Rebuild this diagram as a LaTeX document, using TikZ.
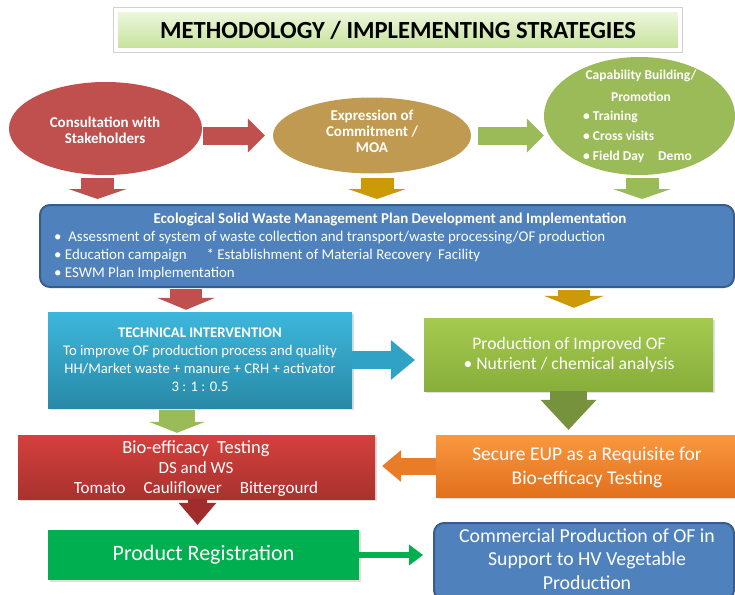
\documentclass[tikz,border=0pt]{standalone}
\usepackage{fontspec}
\setmainfont{Carlito}
\usetikzlibrary{calc}
\usetikzlibrary{shapes.geometric}
\usetikzlibrary{arrows.meta}
\usetikzlibrary{shadows}

\definecolor{ovalred}{HTML}{C0504D}
\definecolor{ovaltan}{HTML}{C09A51}
\definecolor{ovalgreen}{HTML}{9BBB59}
\definecolor{gold}{HTML}{CC9A06}
\definecolor{titletop}{HTML}{EEF7DF}
\definecolor{titlebot}{HTML}{C4E197}
\definecolor{eswblue}{HTML}{4F81BD}
\definecolor{eswedge}{HTML}{385D8A}
\definecolor{techtop}{HTML}{3DB7DC}
\definecolor{techbot}{HTML}{2989A7}
\definecolor{techarrow}{HTML}{2FA2C6}
\definecolor{prodtop}{HTML}{A4CA50}
\definecolor{prodbot}{HTML}{88AE3B}
\definecolor{olive}{HTML}{76923C}
\definecolor{biotop}{HTML}{D5403C}
\definecolor{biobot}{HTML}{A8322F}
\definecolor{biodark}{HTML}{A02C2C}
\definecolor{eupTop}{HTML}{F9983F}
\definecolor{eupBot}{HTML}{E2701C}
\definecolor{regreen}{HTML}{00B050}

\begin{document}
\begin{tikzpicture}[x=1pt,y=-1pt,
        every node/.style={inner sep=0pt,text=white},
        oval/.style={ellipse,draw=none},
        panel/.style={rectangle,drop shadow={shadow xshift=1.5pt,shadow yshift=-1.5pt,opacity=0.25}},
        blockarrow/.style args={#1/#2/#3}{line width=#1,-{Triangle[width=#2,length=#3,line width=0pt]}},
        ovaltext/.style={font=\bfseries\fontsize{15}{16}\selectfont,align=center}
    ]
    \useasboundingbox (0,0) rectangle (735,594);

    \node[preaction={draw=black!18,line width=6pt},draw=white,line width=4pt,
          top color=titletop,bottom color=titlebot,
          minimum width=564pt,minimum height=40pt,text=black,
          font=\bfseries\fontsize{24.6}{28}\selectfont] (title) at (398,30.5)
          {METHODOLOGY / IMPLEMENTING STRATEGIES};

    \node[oval,fill=ovalred,minimum width=193pt,minimum height=93pt] (e1) at (105.5,128.5) {};
    \node[oval,fill=ovaltan,minimum width=198pt,minimum height=76pt] (e2) at (372,135.5) {};
    \node[oval,fill=ovalgreen,minimum width=191pt,minimum height=118pt] (e3) at (639.5,116) {};

    \node[ovaltext] (e1text) at (105,130.5) {Consultation with\\Stakeholders};
    \node[ovaltext] (e2text) at (372,131) {Expression of\\Commitment /\\MOA};
    \node[font=\bfseries\fontsize{13.5}{22}\selectfont,align=center] (e3head) at (641,86)
          {Capability Building/\\Promotion};
    \node[font=\bfseries\fontsize{13.5}{20}\selectfont,align=left,anchor=west] (e3list) at (583,137)
          {• Training\\• Cross visits\\• Field Day\hspace{14pt}Demo};

    \node[rectangle,rounded corners=10pt,fill=eswblue,draw=eswedge,line width=2pt,
          minimum width=694pt,minimum height=82pt] (esw) at (387,246) {};
    \node[font=\bfseries\fontsize{15}{16}\selectfont] (eswhead) at (390,219)
          {Ecological Solid Waste Management Plan Development and Implementation};
    \node[font=\fontsize{14.9}{18}\selectfont,align=left,anchor=west] (eswlist) at (54,256)
          {•\ \ Assessment of system of waste collection and transport/waste processing/OF production\\
           •\ Education campaign\hspace{20pt}* Establishment of Material Recovery\ \ Facility\\
           •\ ESWM Plan Implementation};

    \node[panel,top color=techtop,bottom color=techbot,minimum width=304pt,minimum height=96pt] (tech) at (200,360) {};
    \node[align=center,font=\fontsize{14.7}{18}\selectfont] (techtext) at (200,360)
          {\textbf{TECHNICAL INTERVENTION}\\To improve OF production process and quality\\
           HH/Market waste + manure + CRH + activator\\3 : 1 : 0.5};

    \node[panel,top color=prodtop,bottom color=prodbot,minimum width=289pt,minimum height=73pt] (prod) at (568.5,354.5) {};
    \node[align=center,font=\fontsize{17.6}{20}\selectfont] (prodtext) at (569,355)
          {Production of Improved OF\\• Nutrient / chemical analysis};

    \node[panel,top color=biotop,bottom color=biobot,minimum width=357pt,minimum height=64pt] (bio) at (196.5,467) {};
    \node[align=center,font=\fontsize{17}{20}\selectfont] (biotext) at (196,469)
          {{\fontsize{18.5}{20}\selectfont Bio-efficacy\ \ Testing}\\DS and WS\\
           Tomato\hspace{18pt}Cauliflower\hspace{18pt}Bittergourd};

    \node[panel,top color=eupTop,bottom color=eupBot,minimum width=309pt,minimum height=62pt] (eup) at (590.5,466) {};
    \node[align=center,font=\fontsize{19.5}{24}\selectfont] (euptext) at (587,467)
          {Secure EUP as a Requisite for\\Bio-efficacy Testing};

    \node[panel,fill=regreen,minimum width=311pt,minimum height=50pt,
          font=\fontsize{22}{24}\selectfont] (reg) at (203.5,555) {Product Registration};

    \node[rectangle,rounded corners=10pt,fill=eswblue,draw=eswedge,line width=2pt,
          minimum width=300pt,minimum height=77pt] (comm) at (584,561.5) {};
    \node[align=center,font=\fontsize{19.8}{23.5}\selectfont] (commtext) at (587,559)
          {Commercial Production of OF in\\Support to HV Vegetable\\Production};

    \draw[blockarrow=18pt/34pt/17pt,ovalred,shorten <=1pt,shorten >=8pt] (e1.east |- e2) -- (e2.west);
    \draw[blockarrow=18pt/34pt/17pt,ovalgreen,shorten <=7pt] (e2.east) -- (e2.east -| e3.west);

    \draw[blockarrow=33pt/58pt/10pt,ovalred,shorten <=3pt,shorten >=5pt]
        ([xshift=-8pt]e1.south) -- ([xshift=-8pt]e1.south |- esw.north);
    \draw[blockarrow=33pt/58pt/10pt,gold,shorten <=4.5pt,shorten >=5pt]
        ([xshift=5pt]e2.south) -- ([xshift=5pt]e2.south |- esw.north);
    \draw[blockarrow=33pt/58pt/10pt,ovalgreen,shorten <=3pt,shorten >=5pt]
        ([xshift=2.5pt]e3.south) -- ([xshift=2.5pt]e3.south |- esw.north);

    \draw[blockarrow=32pt/58pt/12pt,ovalred,shorten <=1pt,shorten >=2pt]
        ([xshift=-14pt]tech.north |- esw.south) -- ([xshift=-14pt]tech.north);
    \draw[blockarrow=32pt/60pt/12pt,gold,shorten <=2pt,shorten >=10pt]
        ([xshift=5.5pt]prod.north |- esw.south) -- ([xshift=5.5pt]prod.north);

    \draw[blockarrow=18pt/40pt/24pt,techarrow,shorten >=9pt] (tech.east) -- (tech.east -| prod.west);
    \draw[blockarrow=37pt/56pt/30pt,olive,shorten >=5pt] (prod.south) -- (prod.south |- eup.north);
    \draw[blockarrow=36pt/56pt/11pt,ovalgreen,shorten <=2pt,shorten >=2pt]
        ([xshift=-23pt]tech.south) -- ([xshift=-23pt]tech.south |- bio.north);
    \draw[blockarrow=17pt/32pt/19pt,eupBot!70!eupTop,shorten >=7pt] (eup.west) -- (eup.west -| bio.east);
    \draw[blockarrow=19pt/38pt/22pt,biodark,shorten >=5pt]
        ([xshift=-6pt]reg.north |- bio.south) -- ([xshift=-6pt]reg.north);
    \draw[blockarrow=6pt/21pt/14pt,regreen,shorten >=10pt] (reg.east) -- (reg.east -| comm.west);
\end{tikzpicture}
\end{document}
